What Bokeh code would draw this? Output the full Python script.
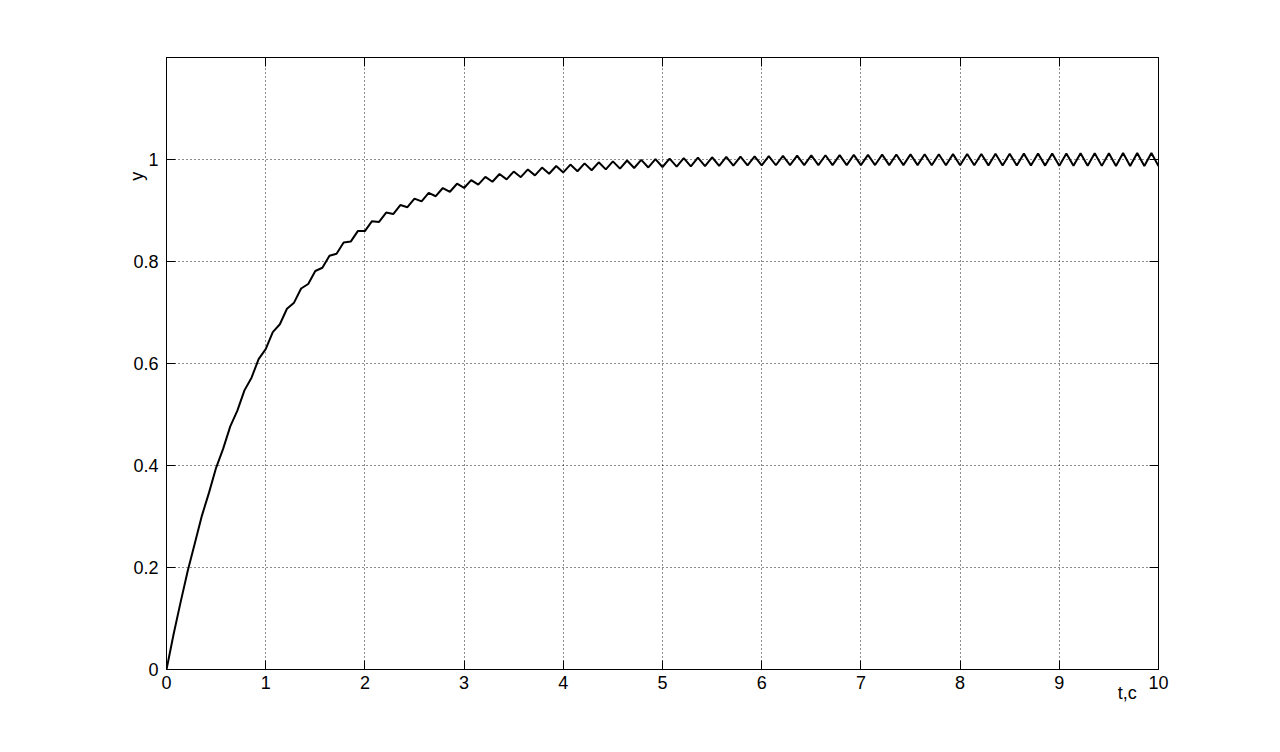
import numpy as np
from math import pi
from bokeh.plotting import figure
from bokeh.models import (FixedTicker, LinearAxis, Label, NumeralTickFormatter, Range1d,
                          CustomJSTickFormatter)
from bokeh.embed import file_html
from bokeh.resources import INLINE

# Response y(t), read at successive ripple peaks / troughs (uniform time grid 0..10 s)
y_values = [
    0.0000, 0.0692, 0.1326, 0.1937, 0.2474, 0.3018, 0.3468, 0.3955, 0.4330, 0.4768,
    0.5076, 0.5473, 0.5722, 0.6086, 0.6281, 0.6616, 0.6770, 0.7073, 0.7193, 0.7470,
    0.7559, 0.7814, 0.7877, 0.8112, 0.8152, 0.8371, 0.8390, 0.8596, 0.8597, 0.8791,
    0.8775, 0.8960, 0.8930, 0.9107, 0.9064, 0.9234, 0.9180, 0.9345, 0.9280, 0.9441,
    0.9367, 0.9525, 0.9442, 0.9597, 0.9507, 0.9660, 0.9563, 0.9715, 0.9611, 0.9763,
    0.9653, 0.9805, 0.9689, 0.9841, 0.9720, 0.9873, 0.9747, 0.9900, 0.9770, 0.9924,
    0.9790, 0.9945, 0.9806, 0.9964, 0.9821, 0.9980, 0.9833, 0.9994, 0.9844, 1.0007,
    0.9853, 1.0018, 0.9860, 1.0028, 0.9867, 1.0037, 0.9872, 1.0044, 0.9876, 1.0051,
    0.9880, 1.0057, 0.9883, 1.0063, 0.9885, 1.0068, 0.9887, 1.0072, 0.9888, 1.0076,
    0.9890, 1.0080, 0.9890, 1.0083, 0.9891, 1.0087, 0.9891, 1.0090, 0.9891, 1.0092,
    0.9891, 1.0095, 0.9890, 1.0097, 0.9890, 1.0100, 0.9889, 1.0102, 0.9888, 1.0104,
    0.9888, 1.0106, 0.9887, 1.0108, 0.9886, 1.0109, 0.9885, 1.0111, 0.9884, 1.0113,
    0.9882, 1.0115, 0.9881, 1.0116, 0.9880, 1.0118, 0.9879, 1.0120, 0.9877, 1.0121,
    0.9876, 1.0123, 0.9875, 1.0124, 0.9874, 1.0126, 0.9872, 1.0127, 0.9871, 1.0129,
    0.9870,
]
t_start = 0.0
t_end = 10.0
t_values = np.linspace(t_start, t_end, len(y_values))

x_ticks = [0, 1, 2, 3, 4, 5, 6, 7, 8, 9, 10]
y_ticks = [0, 0.2, 0.4, 0.6, 0.8, 1.0]
x_range = (0, 10)
y_range = (0, 1.2)
x_label = "t,c"
y_label = "y"

FONT = "Liberation Sans"
FS = "18px"

p = figure(width=1272, height=744, output_backend="svg", toolbar_location=None,
           x_range=Range1d(*x_range), y_range=Range1d(*y_range),
           min_border_left=166, min_border_right=114, min_border_top=57, min_border_bottom=75)
p.background_fill_color = "white"
p.border_fill_color = "white"
p.outline_line_color = "black"
p.outline_line_width = 1

p.line(t_values, y_values, line_color="black", line_width=2)

for ax, tk in ((p.xaxis[0], x_ticks), (p.yaxis[0], y_ticks)):
    ax.ticker = FixedTicker(ticks=tk)
    ax.major_tick_in = 9
    ax.major_tick_out = 0
    ax.minor_tick_in = 0
    ax.minor_tick_out = 0
    ax.axis_line_color = "black"
    ax.major_tick_line_color = "black"
    ax.major_label_text_font = FONT
    ax.major_label_text_font_size = FS
    ax.major_label_text_color = "black"
p.xaxis[0].major_label_standoff = 6
p.yaxis[0].major_label_standoff = 8
p.yaxis[0].formatter = NumeralTickFormatter(format="0.[0]")

# mirrored ticks on top and right (box style), without labels
blank = CustomJSTickFormatter(code="return ''")
top = LinearAxis(ticker=FixedTicker(ticks=x_ticks), major_tick_in=9, major_tick_out=0,
                 minor_tick_in=0, minor_tick_out=0, formatter=blank,
                 axis_line_color="black")
right = LinearAxis(ticker=FixedTicker(ticks=y_ticks), major_tick_in=9, major_tick_out=0,
                   minor_tick_in=0, minor_tick_out=0, formatter=blank,
                   axis_line_color="black")
p.add_layout(top, "above")
p.add_layout(right, "right")

for g, tk in ((p.xgrid[0], x_ticks), (p.ygrid[0], y_ticks)):
    g.ticker = FixedTicker(ticks=tk)
    g.grid_line_color = "black"
    g.grid_line_dash = "1 3"
    g.grid_line_width = 1
    g.grid_line_alpha = 0.9

# axis labels placed MATLAB-style, in the side panels (outside the clipped frame)
p.add_layout(Label(x=9.59, y=-0.047, text=x_label,
                   text_font=FONT, text_font_size=FS, text_align="left",
                   text_baseline="alphabetic", text_color="black"), "below")
p.add_layout(Label(x=-0.297, y=0.967, text=y_label,
                   text_font=FONT, text_font_size=FS, angle=pi / 2, text_align="center",
                   text_baseline="alphabetic", text_color="black"), "left")

open("out.html", "w").write(file_html(p, INLINE))
